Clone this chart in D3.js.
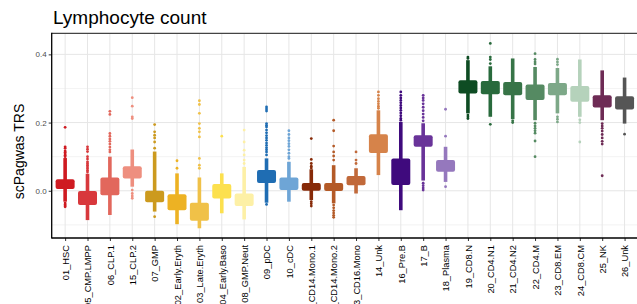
<!DOCTYPE html>
<html>
<head>
<meta charset="utf-8">
<script src="https://cdn.jsdelivr.net/npm/d3@7"></script>
<style>
  body { margin: 0; background: #fff; }
  svg { display: block; font-family: "Liberation Sans", Arial, sans-serif; }
</style>
</head>
<body>
<svg id="chart"></svg>
<script>
// cell types along the x axis
const cellTypes = ["01_HSC","05_CMP.LMPP","06_CLP.1","15_CLP.2","07_GMP","02_Early.Eryth","03_Late.Eryth",
  "04_Early.Baso","08_GMP.Neut","09_pDC","10_cDC","11_CD14.Mono.1","12_CD14.Mono.2","13_CD16.Mono",
  "14_Unk","16_Pre.B","17_B","18_Plasma","19_CD8.N","20_CD4.N1","21_CD4.N2","22_CD4.M","23_CD8.EM",
  "24_CD8.CM","25_NK","26_Unk"];

const cellColors = ["#CF1A21","#D8383C","#E2675C","#EE8F7F","#CC9A1E","#EDB223","#F0C148",
  "#FCE04E","#FDF0A6","#1F6DB3","#6EA5D6","#872A08","#B45A27","#C1693A",
  "#D6834A","#3F0A7D","#693399","#9578BD","#0E4C23","#286A3C","#377447","#558A62","#7DA888",
  "#B5D2BB","#6E2B55","#555555"];

// main box (quartiles)
const boxLo = [0.005,-0.042,-0.013,0.036,-0.034,-0.057,-0.088,-0.023,-0.045,0.023,0.002,0.000,-0.001,0.016,
  0.111,0.017,0.129,0.056,0.285,0.283,0.280,0.266,0.280,0.261,0.244,0.238];
const boxHi = [0.034,-0.001,0.039,0.072,0.000,-0.010,-0.035,0.020,-0.008,0.061,0.039,0.023,0.023,0.043,
  0.166,0.095,0.163,0.090,0.324,0.322,0.319,0.312,0.316,0.307,0.280,0.277];

// narrow stem (outer letter values)
const stemLo = [-0.032,-0.086,-0.071,0.012,-0.061,-0.098,-0.110,-0.066,-0.084,-0.035,-0.032,-0.027,-0.037,-0.008,
  0.046,-0.057,0.030,0.026,0.227,0.217,0.210,0.207,0.227,0.217,0.207,0.197];
const stemHi = [0.096,0.050,0.100,0.121,0.115,0.051,0.039,0.051,0.070,0.095,0.085,0.063,0.075,0.066,
  0.236,0.202,0.198,0.129,0.383,0.365,0.388,0.363,0.360,0.385,0.353,0.332];

// outlying cells
const outliers = [
  [0.186,0.129,0.125,0.117,0.113,0.108,0.104,0.100,-0.036,-0.040,-0.044,-0.047],
  [0.129,0.122,0.115,0.100,0.093,0.085,0.080,0.075,0.070,0.065,0.060,0.055],
  [0.233,0.224,0.168,0.160,0.152,0.145,0.137,0.128,0.120,0.114],
  [0.273,0.248,0.217,0.212,0.002,-0.008,-0.015,-0.022],
  [0.194,0.173,0.163,0.155,0.143,0.125,-0.076],
  [0.088,0.066],
  [0.264,0.253,0.227,0.197,0.183,0.173,0.158,0.095,0.075,0.066],
  [0.160],
  [0.178,0.143,0.119,0.105,0.090,0.080],
  [0.246,0.240,0.234,0.197,0.192,0.187,0.178,0.170,0.162,0.155,0.148,0.140,0.133,0.126,0.120,0.114,0.105,-0.040],
  [0.176,0.165,0.155,0.147,0.138,0.130,0.120,0.110,0.100,0.095],
  [0.153,0.092,0.080,0.072,0.067,-0.032,-0.038,-0.045],
  [0.207,0.176,0.131,0.114,0.102,0.090,-0.042,-0.050,-0.058,-0.065,-0.072,-0.078],
  [0.114,0.090,0.080],
  [0.290,0.280,0.270,0.262,0.255,0.248,0.242],
  [0.290,0.280,0.272,0.265,0.258,0.250,0.243,0.236,0.228,0.220,0.212,0.207],
  [0.280,0.272,0.265,0.255,0.245,0.235,0.225,0.215,0.205,0.022,0.015,0.008,0.002],
  [0.239,0.160,0.012],
  [0.392,0.388,0.222,0.217,0.212],
  [0.432,0.392,0.385,0.373,0.195],
  [0.205,0.200],
  [0.402,0.385,0.378,0.372,0.198,0.190,0.183,0.176,0.169,0.146,0.100],
  [0.386,0.378,0.370,0.217,0.210,0.202],
  [0.208,0.200,0.143],
  [0.197,0.190,0.183,0.175,0.165,0.155,0.145,0.137,0.044],
  [0.166]
];

const yTicks = [0.0, 0.2, 0.4];
const yMinor = [-0.1, 0.1, 0.3];

const width = 637, height = 304;
const pLeft = 51.7, pRight = 638, pTop = 33.3, pBottom = 238;

const svg = d3.select("#chart").attr("width", width).attr("height", height);

const x = d3.scalePoint().domain(cellTypes).range([pLeft, pRight]).padding(0.6);
const y = d3.scaleLinear().domain([-0.1385, 0.4618]).range([pBottom, pTop]);

// grid
const grid = svg.append("g");
grid.selectAll(".minor").data(yMinor).join("line")
  .attr("x1", pLeft).attr("x2", pRight)
  .attr("y1", d => y(d)).attr("y2", d => y(d))
  .attr("stroke", "#EBEBEB").attr("stroke-width", 0.6);
grid.selectAll(".major").data(yTicks).join("line")
  .attr("x1", pLeft).attr("x2", pRight)
  .attr("y1", d => y(d)).attr("y2", d => y(d))
  .attr("stroke", "#E6E6E6").attr("stroke-width", 1);
grid.selectAll(".vert").data(cellTypes).join("line")
  .attr("x1", d => x(d)).attr("x2", d => x(d))
  .attr("y1", pTop).attr("y2", pBottom)
  .attr("stroke", "#E6E6E6").attr("stroke-width", 1);

const boxW = 19, stemW = 3.6;

const groups = svg.append("g").selectAll("g")
  .data(cellTypes)
  .join("g");

groups.append("rect")
  .attr("x", d => x(d) - stemW / 2)
  .attr("width", stemW)
  .attr("y", (d, i) => y(stemHi[i]))
  .attr("height", (d, i) => y(stemLo[i]) - y(stemHi[i]))
  .attr("fill", (d, i) => cellColors[i]);

groups.selectAll("circle")
  .data((d, i) => outliers[i].map(v => ({ name: d, v, c: cellColors[i] })))
  .join("circle")
  .attr("cx", d => x(d.name))
  .attr("cy", d => y(d.v))
  .attr("r", 1.4)
  .attr("fill", d => d.c);

groups.append("rect")
  .attr("x", d => x(d) - boxW / 2)
  .attr("width", boxW)
  .attr("y", (d, i) => y(boxHi[i]))
  .attr("height", (d, i) => y(boxLo[i]) - y(boxHi[i]))
  .attr("rx", 2)
  .attr("fill", (d, i) => cellColors[i]);

// panel border
svg.append("line").attr("x1", pLeft).attr("x2", pRight).attr("y1", pTop).attr("y2", pTop)
  .attr("stroke", "#444").attr("stroke-width", 1.2);

// axes
const yAxis = svg.append("g")
  .attr("transform", `translate(${pLeft},0)`)
  .call(d3.axisLeft(y).tickValues(yTicks).tickFormat(d3.format(".1f")).tickSize(3).tickPadding(2));
yAxis.select(".domain").remove();
yAxis.selectAll(".tick line").attr("stroke", "#333");
yAxis.selectAll(".tick text").attr("fill", "#4D4D4D").attr("font-size", 8);
svg.append("line").attr("x1", pLeft).attr("x2", pLeft).attr("y1", pTop - 0.6).attr("y2", pBottom + 0.6)
  .attr("stroke", "#000").attr("stroke-width", 1.3);

const xAxis = svg.append("g")
  .attr("transform", `translate(0,${pBottom})`)
  .call(d3.axisBottom(x).tickSize(3).tickPadding(4));
xAxis.select(".domain").remove();
xAxis.selectAll(".tick line").attr("stroke", "#333");
xAxis.selectAll(".tick text")
  .attr("font-size", 9.3)
  .attr("fill", "#000")
  .attr("transform", "rotate(-90)")
  .attr("text-anchor", "end")
  .attr("x", -7)
  .attr("y", 0)
  .attr("dy", "0.35em");
svg.append("line").attr("x1", pLeft).attr("x2", pRight).attr("y1", pBottom).attr("y2", pBottom)
  .attr("stroke", "#000").attr("stroke-width", 1.3);

// titles
svg.append("text")
  .attr("x", 53).attr("y", 24.3)
  .attr("font-size", 19)
  .attr("fill", "#000")
  .text("Lymphocyte count");

svg.append("text")
  .attr("transform", "translate(24,151.5) rotate(-90)")
  .attr("text-anchor", "middle")
  .attr("font-size", 14)
  .attr("fill", "#000")
  .text("scPagwas TRS");
</script>
</body>
</html>
